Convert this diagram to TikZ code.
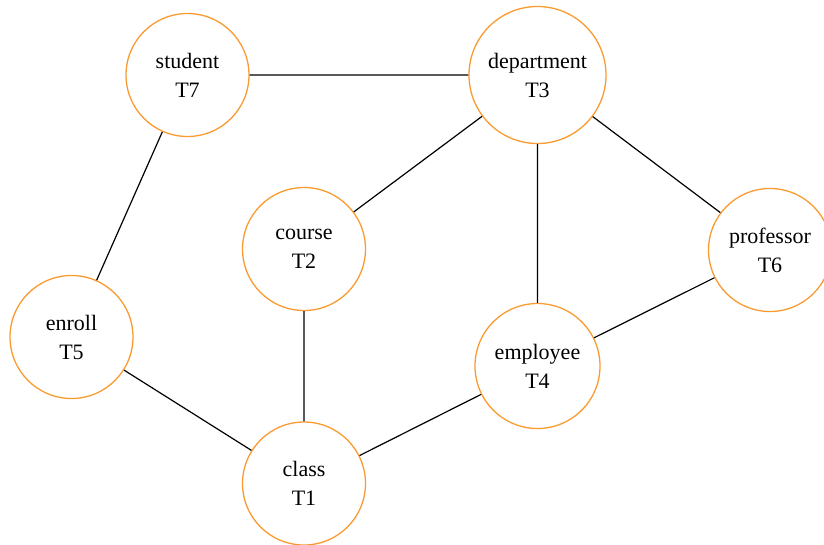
\documentclass[tikz,border=0pt]{standalone}
\usepackage{fontspec}
\setmainfont{Liberation Serif}
\usepackage{tikz}
\definecolor{tableorange}{RGB}{250,155,50}
\tikzstyle{tablenode}=[circle,draw=tableorange,fill=white,line width=1.3pt,
                       align=center,inner sep=0pt,minimum size=123pt,
                       font=\fontsize{22}{29}\selectfont]

\begin{document}
\begin{tikzpicture}[x=1pt,y=-1pt,line width=1.2pt]
    \useasboundingbox (0,0) rectangle (824,544);
    \node (t7) at (187.5, 75) [tablenode]{student\\T7};
    \node (t3) at (537.5, 75) [tablenode,minimum size=137pt]{department\\T3};
    \node (t2) at (304, 249) [tablenode]{course\\T2};
    \node (t6) at (770, 250) [tablenode]{professor\\T6};
    \node (t5) at (71.5, 337) [tablenode]{enroll\\T5};
    \node (t4) at (537.5, 366) [tablenode,minimum size=125pt]{employee\\T4};
    \node (t1) at (304, 483.5) [tablenode]{class\\T1};
    \draw (t7) -- (t3) (t7) -- (t5) (t3) -- (t2) (t3) -- (t4) (t3) -- (t6)
          (t2) -- (t1) (t5) -- (t1) (t4) -- (t1) (t4) -- (t6);
  \end{tikzpicture}
\end{document}
